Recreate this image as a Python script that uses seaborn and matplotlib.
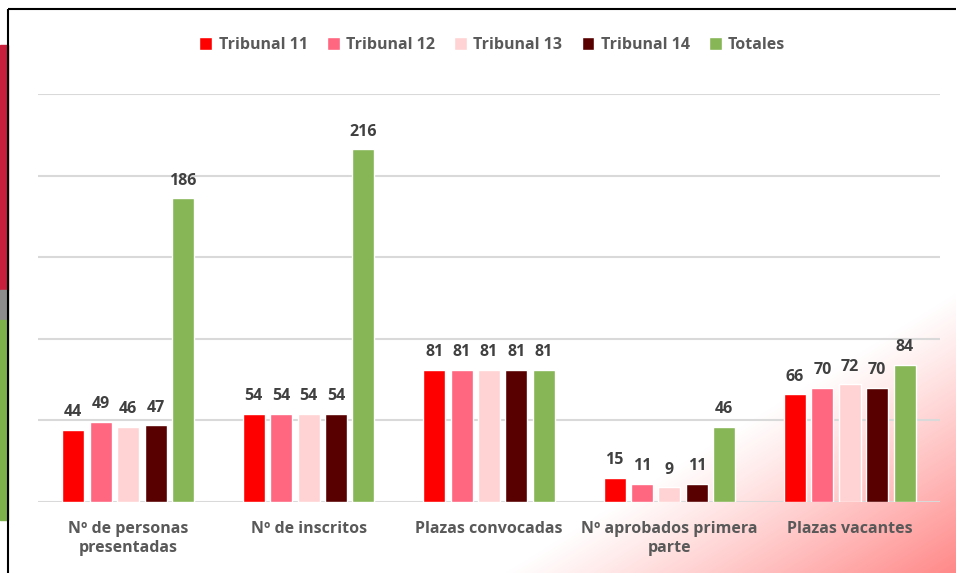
import numpy as np
import pandas as pd
import matplotlib.pyplot as plt
import matplotlib.patches as mpatches
import seaborn as sns

sns.set_style("white")
plt.rcParams['font.family'] = ['Open Sans', 'DejaVu Sans']

# ==========================================================
# DATA
# ==========================================================

categories = ["Nº de personas\npresentadas", "Nº de inscritos", "Plazas convocadas",
              "Nº aprobados primera\nparte", "Plazas vacantes"]
series_names = ["Tribunal 11", "Tribunal 12", "Tribunal 13", "Tribunal 14", "Totales"]

tribunal_11 = [44, 54, 81, 15, 66]
tribunal_12 = [49, 54, 81, 11, 70]
tribunal_13 = [46, 54, 81, 9, 72]
tribunal_14 = [47, 54, 81, 11, 70]
totales = [186, 216, 81, 46, 84]

colors = ["#FF0000", "#FF6680", "#FFD3D3", "#580000", "#86B655"]

values = [tribunal_11, tribunal_12, tribunal_13, tribunal_14, totales]
df = pd.DataFrame({
    "categoria": np.tile(categories, len(series_names)),
    "serie": np.repeat(series_names, len(categories)),
    "valor": np.concatenate(values),
})

# ==========================================================
# FIGURE
# ==========================================================

W, H = 956, 573
fig = plt.figure(figsize=(W / 100, H / 100), dpi=100)

# background: decorative shapes + pink corner gradient
bg = fig.add_axes([0, 0, 1, 1], zorder=-2)
bg.set_xlim(0, W)
bg.set_ylim(H, 0)
bg.axis("off")

xx, yy = np.meshgrid(np.arange(W), np.arange(H))
t = (xx - 500) / 456 + (yy - 290) / 283 - 1
alpha = np.clip(t, 0, 1) ** 1.1 * 0.85
img = np.zeros((H, W, 4))
img[..., 0] = 1.0
img[..., 1] = 0.45
img[..., 2] = 0.45
img[..., 3] = alpha
bg.imshow(img, extent=(0, W, H, 0), aspect="auto", zorder=0)

bg.add_patch(mpatches.Rectangle((0, 45), 8, 245, color="#C8203C", zorder=1))
bg.add_patch(mpatches.Rectangle((0, 290), 8, 30, color="#8C8C8C", zorder=1))
bg.add_patch(mpatches.Rectangle((0, 320), 8, 200, color="#7DAF4A", zorder=1))
bg.add_patch(mpatches.Rectangle((8, 9), W + 10, H + 10, fill=False,
                                edgecolor="black", linewidth=1.5, zorder=2))

ax = fig.add_axes([38 / W, 1 - 502 / H, 902 / W, 408 / H])
ax.set_facecolor("none")

sns.barplot(
    data=df,
    x="categoria",
    y="valor",
    hue="serie",
    palette=colors,
    width=0.76,
    gap=0.2,
    saturation=1,
    ax=ax,
    zorder=3,
)

for cont in ax.containers:
    ax.bar_label(cont, padding=7, fontsize=11.5, fontweight="bold", color="#404040")

ax.set_ylim(0, 250)
ax.set_xlim(-0.5, 4.5)
ax.set_yticks(np.arange(0, 251, 50))
ax.set_yticklabels([])
ax.tick_params(axis="y", length=0)
ax.tick_params(axis="x", length=0, pad=14)
ax.grid(axis="y", color="#D9D9D9", linewidth=1.5, zorder=0)
ax.set_axisbelow(True)
for s in ax.spines.values():
    s.set_visible(False)

for lab in ax.get_xticklabels():
    lab.set_fontweight("bold")
    lab.set_fontsize(11.5)
    lab.set_color("#595959")

ax.set_xlabel("")
ax.set_ylabel("")

leg = ax.legend(
    loc="center",
    bbox_to_anchor=(0.515, 1 - 45 / H, 0, 0),
    bbox_transform=fig.transFigure,
    ncol=5,
    frameon=False,
    handlelength=0.8,
    handleheight=0.8,
    handletextpad=0.4,
    columnspacing=1.2,
    prop={"weight": "bold", "size": 11.5},
)
for txt in leg.get_texts():
    txt.set_color("#595959")

plt.savefig("out.png", dpi=100)
plt.close()
